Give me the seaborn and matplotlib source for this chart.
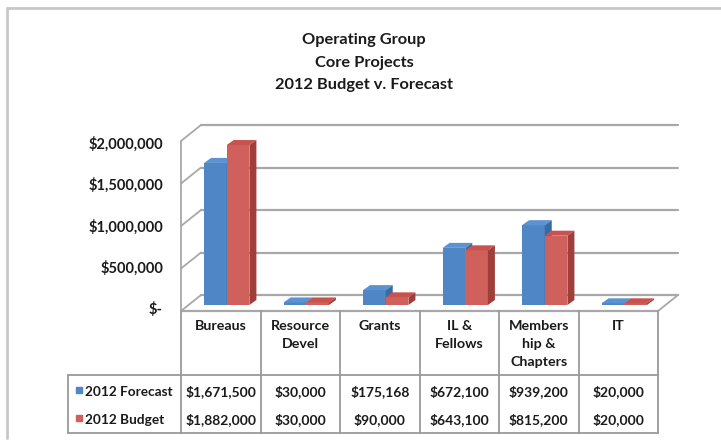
import numpy as np
import pandas as pd
import matplotlib
matplotlib.use('Agg')
import matplotlib.pyplot as plt
from matplotlib.patches import Polygon
import seaborn as sns

categories = ['Bureaus', 'Resource\nDevel', 'Grants', 'IL &\nFellows', 'Members\nhip &\nChapters', 'IT']
forecast = [1671500, 30000, 175168, 672100, 939200, 20000]
budget = [1882000, 30000, 90000, 643100, 815200, 20000]
series = ['2012 Forecast', '2012 Budget']
yticks = [0, 500000, 1000000, 1500000, 2000000]
ytick_labels = ['$-', '$500,000', '$1,000,000', '$1,500,000', '$2,000,000']

front_colors = ['#4F86C6', '#D0605B']
top_colors = ['#5B92D2', '#C8534E']
side_colors = ['#3A6AA3', '#9E3F3B']

W, H = 721, 443
FONT = ['Lato', 'DejaVu Sans']

df = pd.DataFrame({
    'category': categories * 2,
    'value': forecast + budget,
    'series': [series[0]] * 6 + [series[1]] * 6,
})

sns.set_style('white')
plt.rcParams['font.family'] = FONT
plt.rcParams['font.weight'] = 'bold'
plt.rcParams['text.color'] = '#1a1a1a'

fig = plt.figure(figsize=(W / 100, H / 100), dpi=100)
bg = fig.add_axes([0, 0, 1, 1], zorder=0)
bg.set_xlim(0, W)
bg.set_ylim(H, 0)
bg.axis('off')

# bar plane (front faces of the bars)
ax = fig.add_axes([187 / W, (H - 305) / H, 477 / W, 170 / H], zorder=1)
ax.patch.set_alpha(0)
sns.barplot(data=df, x='category', y='value', hue='series', hue_order=series,
            palette=front_colors, saturation=1, width=0.57, gap=0,
            legend=False, ax=ax, linewidth=0)
ax.set_xlim(-0.5, 5.5)
ax.set_ylim(0, 2000000)
ax.axis('off')

ux = 6 / 477          # data units per pixel (x)
uy = 2000000 / 170    # data units per pixel (y)
ddx, ddy = 7, 5       # bar depth in pixels

for i, p in enumerate(ax.patches):
    s = i // 6
    p.set_zorder(2 + s)
    x0, w, h = p.get_x(), p.get_width(), p.get_height()
    x1 = x0 + w
    top = Polygon([(x0, h), (x1, h), (x1 + ddx * ux, h + ddy * uy), (x0 + ddx * ux, h + ddy * uy)],
                  closed=True, facecolor=top_colors[s], edgecolor='none', zorder=2 + s)
    side = Polygon([(x1, 0), (x1, h), (x1 + ddx * ux, h + ddy * uy), (x1 + ddx * ux, ddy * uy)],
                   closed=True, facecolor=side_colors[s], edgecolor='none', zorder=2 + s)
    ax.add_patch(top)
    ax.add_patch(side)


def to_px(x, y, dx=0, dy=0):
    X, Y = ax.transData.transform((x, y))
    return X + dx, H - Y + dy


grid_c = '#a8a8a8'
# back wall gridlines and left wall
for v in yticks:
    bx0, by0 = to_px(-0.5, v, 14, -10)
    bx1, by1 = to_px(5.5, v, 14, -10)
    bg.plot([bx0, bx1], [by0, by1], color=grid_c, lw=1.6)
    fx, fy = to_px(-0.5, v, -6, 6)
    bg.plot([fx, bx0], [fy, by0], color=grid_c, lw=1.3)

fx0, fy_top = to_px(-0.5, 2000000, -6, 6)
fx0, fy0 = to_px(-0.5, 0, -6, 6)
fx1, _ = to_px(5.5, 0, -6, 6)
bx1, by1 = to_px(5.5, 0, 14, -10)
bg.plot([fx0, fx0], [fy_top, fy0], color=grid_c, lw=1.3)
bg.plot([fx0, fx1], [fy0, fy0], color=grid_c, lw=1.6)
bg.plot([fx1, bx1], [fy0, by1], color=grid_c, lw=1.3)

# y tick labels (front edge of the left wall)
for v, lab in zip(yticks, ytick_labels):
    lx, ly = to_px(-0.5, v, -24, 5 + 4 * v / 2000000)
    bg.text(lx, ly, lab, ha='right', va='center', fontsize=10.5)

# data table
tc = '#9a9a9a'
table_left, header_bot, table_bot = 68, 375, 433
col_edges = [to_px(-0.5 + k, 0, -6, 6)[0] for k in range(7)]
for xe in col_edges:
    bg.plot([xe, xe], [fy0, table_bot], color=tc, lw=1.3)
bg.plot([table_left, col_edges[-1]], [header_bot, header_bot], color=tc, lw=1.3)
bg.plot([table_left, col_edges[-1]], [table_bot, table_bot], color=tc, lw=1.3)
bg.plot([table_left, table_left], [header_bot, table_bot], color=tc, lw=1.3)

for k, cat in enumerate(categories):
    cx = (col_edges[k] + col_edges[k + 1]) / 2
    bg.text(cx, 320, cat, ha='center', va='top', fontsize=10.3, linespacing=1.62)
    bg.text(cx, 392, '${:,}'.format(forecast[k]), ha='center', va='center', fontsize=10)
    bg.text(cx, 420, '${:,}'.format(budget[k]), ha='center', va='center', fontsize=10)

for s, yy in zip(range(2), [392, 420]):
    bg.plot([79], [yy - 2], marker='s', markersize=4.5, color=front_colors[s], lw=0)
    bg.text(85, yy, series[s], ha='left', va='center', fontsize=9.8)

# title
for yy, t in zip([40, 63, 85], ['Operating Group', 'Core Projects', '2012 Budget v. Forecast']):
    bg.text(364, yy, t, ha='center', va='center', fontsize=11.8)

# chart area border
bc = '#c8c8c8'
bg.plot([7, W], [8, 8], color=bc, lw=2)
bg.plot([7, 7], [8, 438], color=bc, lw=2)

fig.savefig('out.png', dpi=100)
